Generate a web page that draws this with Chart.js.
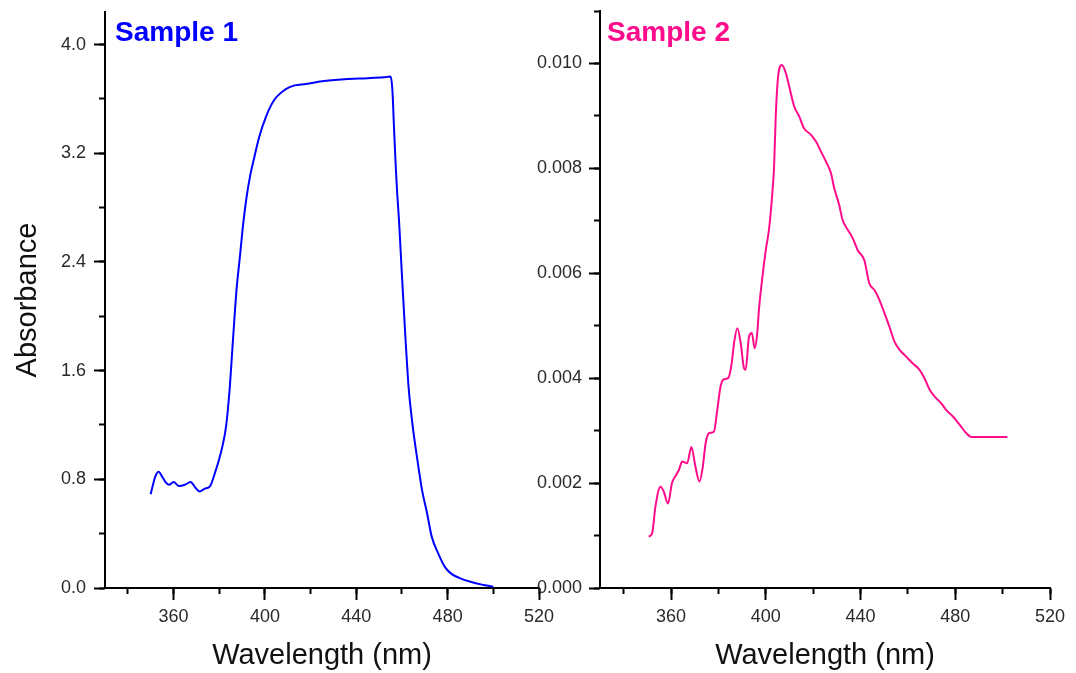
<!DOCTYPE html>
<html>
<head>
<meta charset="utf-8">
<script src="https://cdn.jsdelivr.net/npm/chart.js@4.4.1/dist/chart.umd.min.js"></script>
<style>
  html, body { margin: 0; padding: 0; background: #fff; }
  #wrap { position: relative; width: 1076px; height: 673px; }
  .panel { position: absolute; left: 0; top: 0; width: 1076px; height: 673px; }
</style>
</head>
<body>
<div id="wrap">
  <div class="panel"><canvas id="left"></canvas></div>
  <div class="panel"><canvas id="right"></canvas></div>
</div>
<script>
const FONT = '"Liberation Sans", Arial, sans-serif';

// Sample 1
const wavelength1 = [350, 351, 352, 353.5, 355, 356.5, 358, 360, 362.5, 365, 367.5, 369.5, 371.5, 373.5, 376, 378,
  380, 381.5, 383, 384.5, 386, 387.5, 389, 390.5, 392, 393.5, 395.5, 397.5, 400.5, 404, 409, 413, 418, 425, 435,
  445, 452, 455, 455.8, 456.5, 457.2, 457.9, 458.7, 459.4, 460.1, 460.9, 461.6, 462.3, 463, 464.5, 466, 467.4,
  468.8, 471, 473, 476, 479, 482, 485, 490, 495, 500];
const absorbance1 = [0.69, 0.76, 0.82, 0.856, 0.82, 0.78, 0.76, 0.78, 0.75, 0.76, 0.78, 0.74, 0.71, 0.73, 0.75, 0.84,
  0.95, 1.05, 1.19, 1.45, 1.82, 2.18, 2.43, 2.68, 2.88, 3.03, 3.18, 3.32, 3.47, 3.59, 3.67, 3.70, 3.71, 3.73, 3.745,
  3.753, 3.76, 3.765, 3.67, 3.40, 3.13, 2.91, 2.71, 2.49, 2.27, 2.03, 1.82, 1.63, 1.46, 1.22, 1.03, 0.87,
  0.72, 0.55, 0.38, 0.25, 0.15, 0.10, 0.075, 0.046, 0.025, 0.01];

// Sample 2
const wavelength2 = [350.6, 352.0, 353.4, 355.5, 356.9, 358.7, 360.4, 362.1, 363.3, 364.7, 366.8, 368.6, 370.3, 372.0,
  373.4, 374.6, 376.0, 378.1, 379.5, 380.9, 382.3, 384.1, 385.6, 386.6, 388.0, 389.4, 390.8, 391.5, 392.9, 394.1,
  395.3, 396.4, 397.1, 398.5, 400.0, 401.4, 402.8, 403.5, 404.2, 405.2, 406.8, 408.5, 409.9, 412.0, 414.1, 416.2,
  419.1, 421.2, 423.3, 425.4, 427.5, 428.9, 431.0, 432.4, 434.6, 436.7, 438.8, 441.6, 443.7, 445.9, 448.0, 450.1,
  452.2, 454.3, 456.5, 459.3, 462.1, 464.9, 467.0, 469.2, 471.3, 474.1, 476.2, 479.0, 481.9, 484.7, 486.8, 502];
const absorbance2 = [0.00098, 0.00104, 0.00155, 0.00193, 0.00184, 0.00161, 0.00200, 0.00215, 0.00225, 0.00241,
  0.00238, 0.00269, 0.00231, 0.00203, 0.00231, 0.00276, 0.00295, 0.00298, 0.00339, 0.00384, 0.00398, 0.00400,
  0.00428, 0.00467, 0.00495, 0.00467, 0.00419, 0.00416, 0.00479, 0.00486, 0.00457, 0.00486, 0.00530, 0.00590,
  0.00644, 0.00685, 0.00755, 0.00803, 0.00899, 0.00975, 0.00997, 0.00981, 0.00956, 0.00918, 0.00899, 0.00876,
  0.00864, 0.00851, 0.00832, 0.00813, 0.00791, 0.00762, 0.00730, 0.00702, 0.00683, 0.00667, 0.00644, 0.00625,
  0.00581, 0.00568, 0.00549, 0.00524, 0.00498, 0.00470, 0.00454, 0.00441, 0.00428, 0.00416, 0.00400, 0.00378,
  0.00365, 0.00352, 0.00339, 0.00327, 0.00311, 0.00295, 0.00288, 0.00288];

// axis ranges / tick steps
const xMin = 330, xMax = 520, xStep = 40, xMinorStep = 20;
const yMax1 = 4.24, yStep1 = 0.8, yMinorStep1 = 0.4;
const yMax2 = 0.011, yStep2 = 0.002, yMinorStep2 = 0.001;

const sampleTitle = {
  id: 'sampleTitle',
  afterDraw(chart, args, opts) {
    const { ctx, chartArea } = chart;
    ctx.save();
    ctx.font = 'bold 28px ' + FONT;
    ctx.fillStyle = opts.color;
    ctx.textBaseline = 'alphabetic';
    ctx.fillText(opts.text, chartArea.left + opts.dx, 41);
    ctx.restore();
  }
};

const fixW = w => s => { s.width = w; s.paddingTop = 0; s.paddingBottom = 0; };
const fixH = h => s => { s.height = h; s.paddingLeft = 0; s.paddingRight = 0; };

function makeChart(id, cfg) {
  const points = cfg.xs.map((x, i) => ({ x, y: cfg.ys[i] }));
  const tickFont = { family: FONT, size: 18 };
  return new Chart(document.getElementById(id), {
    type: 'line',
    data: {
      datasets: [{
        data: points,
        borderColor: cfg.color,
        borderWidth: 2,
        pointRadius: 0,
        cubicInterpolationMode: 'monotone',
        fill: false
      }]
    },
    plugins: [sampleTitle],
    options: {
      responsive: true,
      maintainAspectRatio: false,
      animation: false,
      layout: { padding: cfg.padding },
      plugins: {
        legend: { display: false },
        tooltip: { enabled: false },
        sampleTitle: { text: cfg.title, color: cfg.color, dx: cfg.titleDx }
      },
      scales: {
        x: {
          type: 'linear', position: 'bottom', weight: 1, min: xMin, max: xMax,
          grid: { drawOnChartArea: false, tickLength: 12, tickWidth: 2, tickColor: '#000' },
          border: { color: '#000', width: 2 },
          ticks: { stepSize: xStep, includeBounds: false, autoSkip: false, maxRotation: 0, padding: 6, color: '#2a2a2a', font: tickFont },
          title: { display: true, text: 'Wavelength (nm)', color: '#111', font: { family: FONT, size: 29 }, padding: { top: 0, bottom: 0 } },
          afterFit: fixH(85)
        },
        xMinor: {
          type: 'linear', axis: 'x', position: 'bottom', weight: 0, min: xMin, max: xMax,
          grid: { drawOnChartArea: false, tickLength: 6, tickWidth: 2, tickColor: '#000' },
          border: { display: false },
          ticks: { stepSize: xMinorStep, includeBounds: false, display: false },
          afterFit: fixH(0)
        },
        y: {
          type: 'linear', position: 'left', weight: 1, min: 0, max: cfg.yMax,
          grid: { drawOnChartArea: false, tickLength: 11, tickWidth: 2, tickColor: '#000' },
          border: { color: '#000', width: 2 },
          ticks: { stepSize: cfg.yStep, includeBounds: false, autoSkip: false, padding: cfg.yPad, color: '#2a2a2a', font: tickFont,
                   callback: v => v.toFixed(cfg.decimals) },
          title: { display: !!cfg.yTitle, text: cfg.yTitle || '', color: '#111', font: { family: FONT, size: 29 }, padding: { top: 11, bottom: 0 } },
          afterFit: fixW(cfg.yWidth)
        },
        yMinor: {
          type: 'linear', axis: 'y', position: 'left', weight: 0, min: 0, max: cfg.yMax,
          grid: { drawOnChartArea: false, tickLength: 6, tickWidth: 2, tickColor: '#000' },
          border: { display: false },
          ticks: { stepSize: cfg.yMinorStep, includeBounds: false, display: false },
          afterFit: fixW(0)
        }
      }
    }
  });
}

makeChart('left', {
  xs: wavelength1, ys: absorbance1, color: '#0000FF', title: 'Sample 1', titleDx: 10,
  yMax: yMax1, yStep: yStep1, yMinorStep: yMinorStep1, decimals: 1, yTitle: 'Absorbance',
  yWidth: 105, yPad: 8, padding: { left: 0, top: 12, right: 537, bottom: 0 }
});

makeChart('right', {
  xs: wavelength2, ys: absorbance2, color: '#FF0C8C', title: 'Sample 2', titleDx: 7,
  yMax: yMax2, yStep: yStep2, yMinorStep: yMinorStep2, decimals: 3, yTitle: null,
  yWidth: 100, yPad: 7, padding: { left: 500, top: 11, right: 26, bottom: 0 }
});
</script>
</body>
</html>
